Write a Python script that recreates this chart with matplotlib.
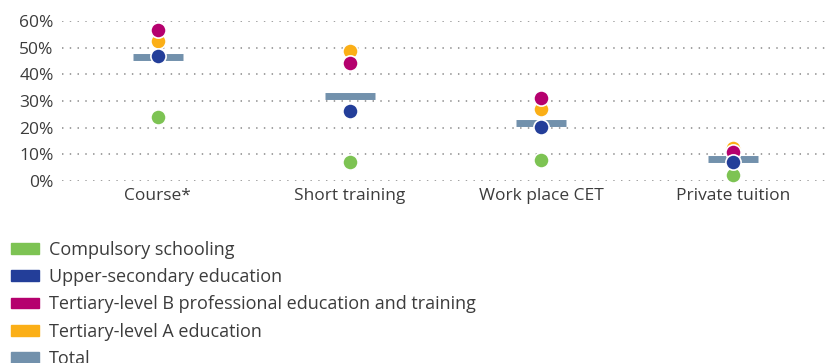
import matplotlib
matplotlib.use('Agg')
import matplotlib.pyplot as plt
import matplotlib.patches as mpatches
import numpy as np

plt.rcParams['font.family'] = ['Open Sans', 'DejaVu Sans']

categories = ['Course*', 'Short training', 'Work place CET', 'Private tuition']
compulsory = [23.9, 7.0, 7.9, 2.1]
upper_secondary = [46.9, 26.3, 20.3, 7.1]
tertiary_b = [56.5, 44.4, 31.0, 10.8]
tertiary_a = [52.6, 48.9, 27.0, 12.5]
total = [46.6, 31.9, 21.7, 8.2]
yticks = [0, 10, 20, 30, 40, 50, 60]

series_names = ['Compulsory schooling', 'Upper-secondary education',
                'Tertiary-level B professional education and training',
                'Tertiary-level A education']
colors = ['#7dc353', '#233e99', '#b5006e', '#fbaf17']
total_color = '#7291ac'
text_color = '#3c3c3c'

fig = plt.figure(figsize=(8.29, 3.63), dpi=100)
ax = fig.add_axes([62 / 829, 1 - 181 / 363, 1 - 62 / 829, 160 / 363])

x = np.arange(len(categories))

# total as short horizontal bar
ax.errorbar(x, total, xerr=0.13, fmt='none', ecolor=total_color,
            elinewidth=5, capsize=0, zorder=3, clip_on=False)

# draw order: orange, magenta, green, blue on top
order = [3, 2, 0, 1]
data = [compulsory, upper_secondary, tertiary_b, tertiary_a]
for i in order:
    ax.scatter(x, data[i], s=120, color=colors[i], edgecolors='white',
               linewidths=1.2, zorder=4 + order.index(i), clip_on=False)

ax.set_xlim(-0.5, 3.5)
ax.set_ylim(0, 60)
ax.set_yticks(yticks)
ax.set_yticklabels([f'{v}%' for v in yticks])
ax.set_xticks(x)
ax.set_xticklabels(categories)
ax.tick_params(length=0, labelsize=12.5, colors=text_color, pad=5)
ax.tick_params(axis='y', pad=6)
for s in ax.spines.values():
    s.set_visible(False)
ax.grid(axis='y', color='#9a9a9a', linestyle=(0, (0.8, 3.5)), linewidth=1.3)
ax.set_axisbelow(True)

handles = [mpatches.Patch(color=c, label=n) for c, n in zip(colors, series_names)]
handles.append(mpatches.Patch(color=total_color, label='Total'))
fig.legend(handles=handles, loc='upper left', bbox_to_anchor=(-0.002, 1 - 228 / 363),
           frameon=False, fontsize=13, handlelength=1.55, handleheight=0.55,
           labelspacing=0.52, handletextpad=0.55, borderaxespad=0.3,
           labelcolor=text_color)

plt.savefig('out.png', dpi=100)
plt.close()
